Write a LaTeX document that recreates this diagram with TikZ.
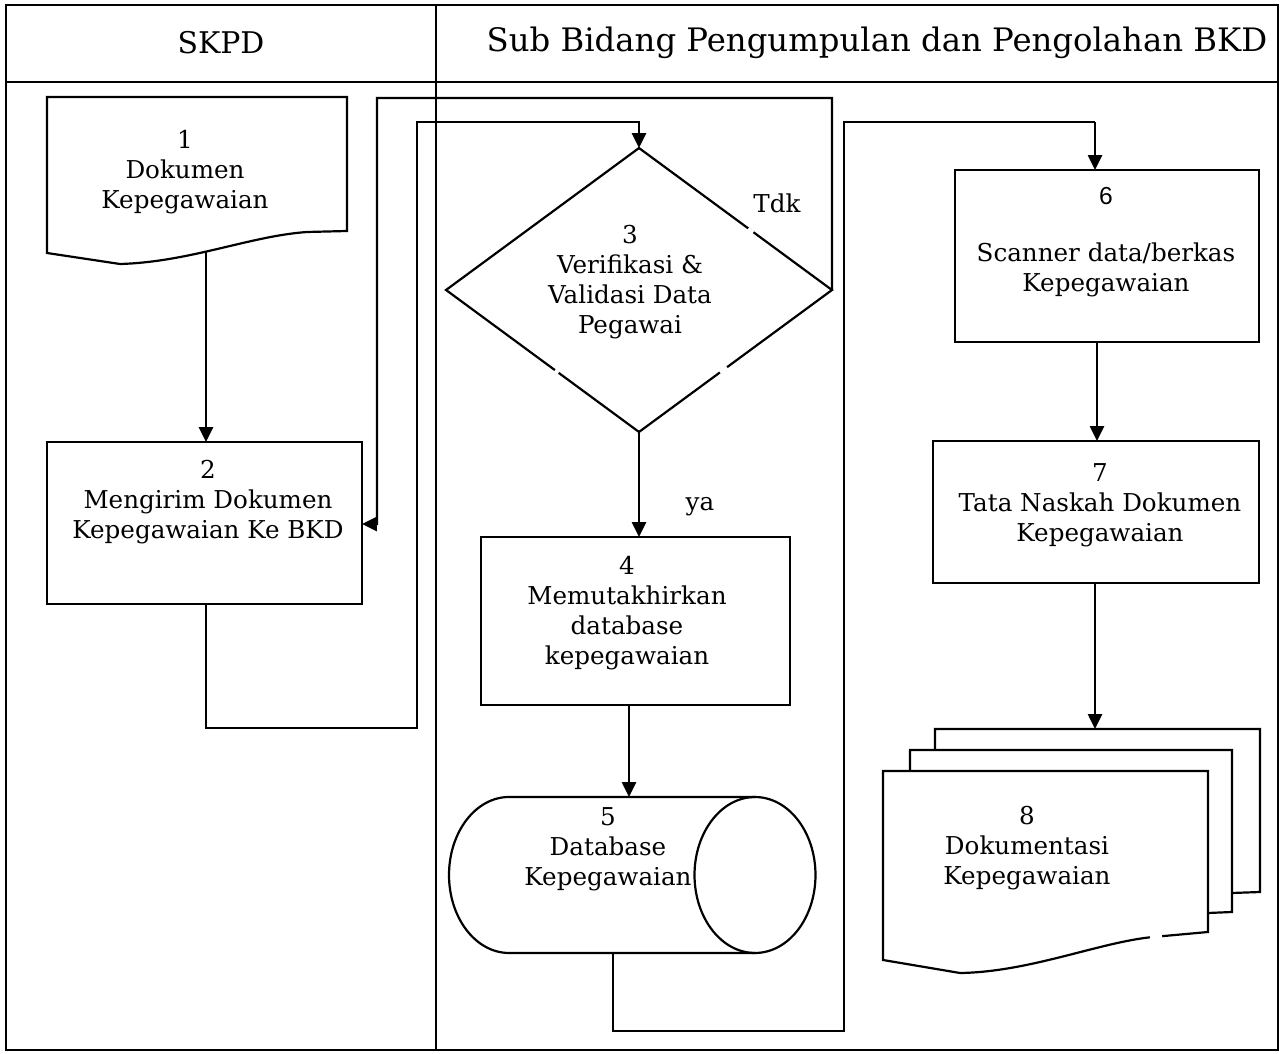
\documentclass[tikz,border=0pt]{standalone}
\usepackage{fontspec}
\setmainfont{DejaVu Serif}
\newfontfamily\sansf{Liberation Sans}
\usetikzlibrary{arrows.meta,shapes.geometric}
\newcommand{\bodyfont}{\fontsize{14}{17}\selectfont}
\newcommand{\headfont}{\fontsize{17}{20}\selectfont}
\newcommand{\headfontwide}{\fontsize{18.4}{21}\selectfont}
\tikzset{
  frame/.style={line width=1.6pt},
  shp/.style={draw, line width=1.25pt, inner sep=0pt, outer sep=0pt},
  conn/.style={line width=1.25pt},
  arr/.style={conn, -{Triangle[length=8.5pt,width=8pt]}},
  txt/.style={font=\bodyfont, align=center, inner sep=0pt},
  gap/.style={white, line width=2.2pt},
}
\begin{document}
\begin{tikzpicture}[x=0.02cm,y=-0.02cm]
\useasboundingbox (0,0) rectangle (1286,1054);
% frame
\draw[frame] (6,5) rectangle (1278,1050);
\draw[frame] (6,82) -- (1278,82);
\draw[frame] (436,5) -- (436,1050);
\node[font=\headfont, inner sep=0pt] (hA) at (221,43) {SKPD};
\node[font=\headfontwide, inner sep=0pt] (hB) at (877,43) {Sub Bidang Pengumpulan dan Pengolahan BKD};

% 1 document
\draw[shp, fill=white] (47,97) -- (347,97) -- (347,231) -- (307,232)
  .. controls (250,236) and (190,262) .. (120,264) -- (47,253) -- cycle;
\coordinate (d1out) at (206,252);
\node[txt] (t1) at (185,172) {1\\Dokumen\\Kepegawaian};

% 2 box
\node[shp, minimum width=6.30cm, minimum height=3.24cm] (b2) at (204.5,523) {};
\node[txt] (t2) at (208,502) {2\\Mengirim Dokumen\\Kepegawaian Ke BKD};

% 3 diamond
\node[shp, diamond, minimum width=7.72cm, minimum height=5.68cm] (dia) at (639,290) {};
\draw[gap] (748,228.9) -- (753,232.6);
\draw[gap] (555,370.2) -- (558.5,372.8);
\draw[gap] (720,372.4) -- (727,367.3);
\node[txt] (t3) at (630,282) {3\\Verifikasi \&\\Validasi Data\\Pegawai};
\node[txt] (tdk) at (777,203) {Tdk};

% 4 box
\node[shp, minimum width=6.18cm, minimum height=3.36cm] (b4) at (635.5,621) {};
\node[txt] (t4) at (627,613) {4\\Memutakhirkan\\database\\kepegawaian};
\node[txt] (ya) at (700,507) {ya};

% 5 cylinder
\draw[shp, fill=white] (755,797) -- (509,797)
  arc[start angle=90, end angle=270, x radius=1.20cm, y radius=1.56cm] -- (755,953);
\draw[shp] (755,875) ellipse [x radius=1.21cm, y radius=1.56cm];
\coordinate (cyltop) at (629,797);
\coordinate (cylbot) at (613,953);
\node[txt] (t5) at (608,849) {5\\Database\\Kepegawaian};

% 6 box
\node[shp, minimum width=6.08cm, minimum height=3.44cm] (b6) at (1107,256) {};
\node[inner sep=0pt, font=\sansf\fontsize{14}{17}\selectfont] (t6n) at (1106,196) {6};
\node[txt] (t6) at (1106,270) {Scanner data/berkas\\Kepegawaian};

% 7 box
\node[shp, minimum width=6.52cm, minimum height=2.84cm] (b7) at (1096,512) {};
\node[txt] (t7) at (1100,505) {7\\Tata Naskah Dokumen\\Kepegawaian};

% 8 multi document
\draw[shp] (935,750) -- (935,729) -- (1260,729) -- (1260,892) -- (1232,893);
\draw[shp] (910,771) -- (910,750) -- (1232,750) -- (1232,912) -- (1208,913);
\draw[shp, fill=white] (883,771) -- (1208,771) -- (1208,932) -- (1153,937)
  .. controls (1100,942) and (1030,972) .. (960,973) -- (883,960) -- cycle;
\draw[gap] (1150,937.3) -- (1162,936.2);
\coordinate (d8in) at (1095,729);
\node[txt] (t8) at (1027,848) {8\\Dokumentasi\\Kepegawaian};

% connectors
\draw[arr] (d1out) -- (d1out |- b2.north);
\draw[arr] (b2.south -| d1out) -- (206,728) -- (417,728) -- (417,122) -- (639,122) -- (dia.north);
\draw[arr] (dia.east) -- (832,98) -- (377,98) -- (377,524) -- (b2.east |- 0,524);
\draw[arr] (dia.south) -- (dia.south |- b4.north);
\draw[arr] (b4.south -| cyltop) -- (cyltop);
\draw[conn] (cylbot) -- (613,1031) -- (844,1031) -- (844,122) -- (1095,122);
\draw[arr] (1095,122) -- (1095,170 |- b6.north);
\draw[arr] (b6.south -| 1097,0) -- (1097,0 |- b7.north);
\draw[arr] (b7.south -| d8in) -- (d8in);
\end{tikzpicture}
\end{document}
